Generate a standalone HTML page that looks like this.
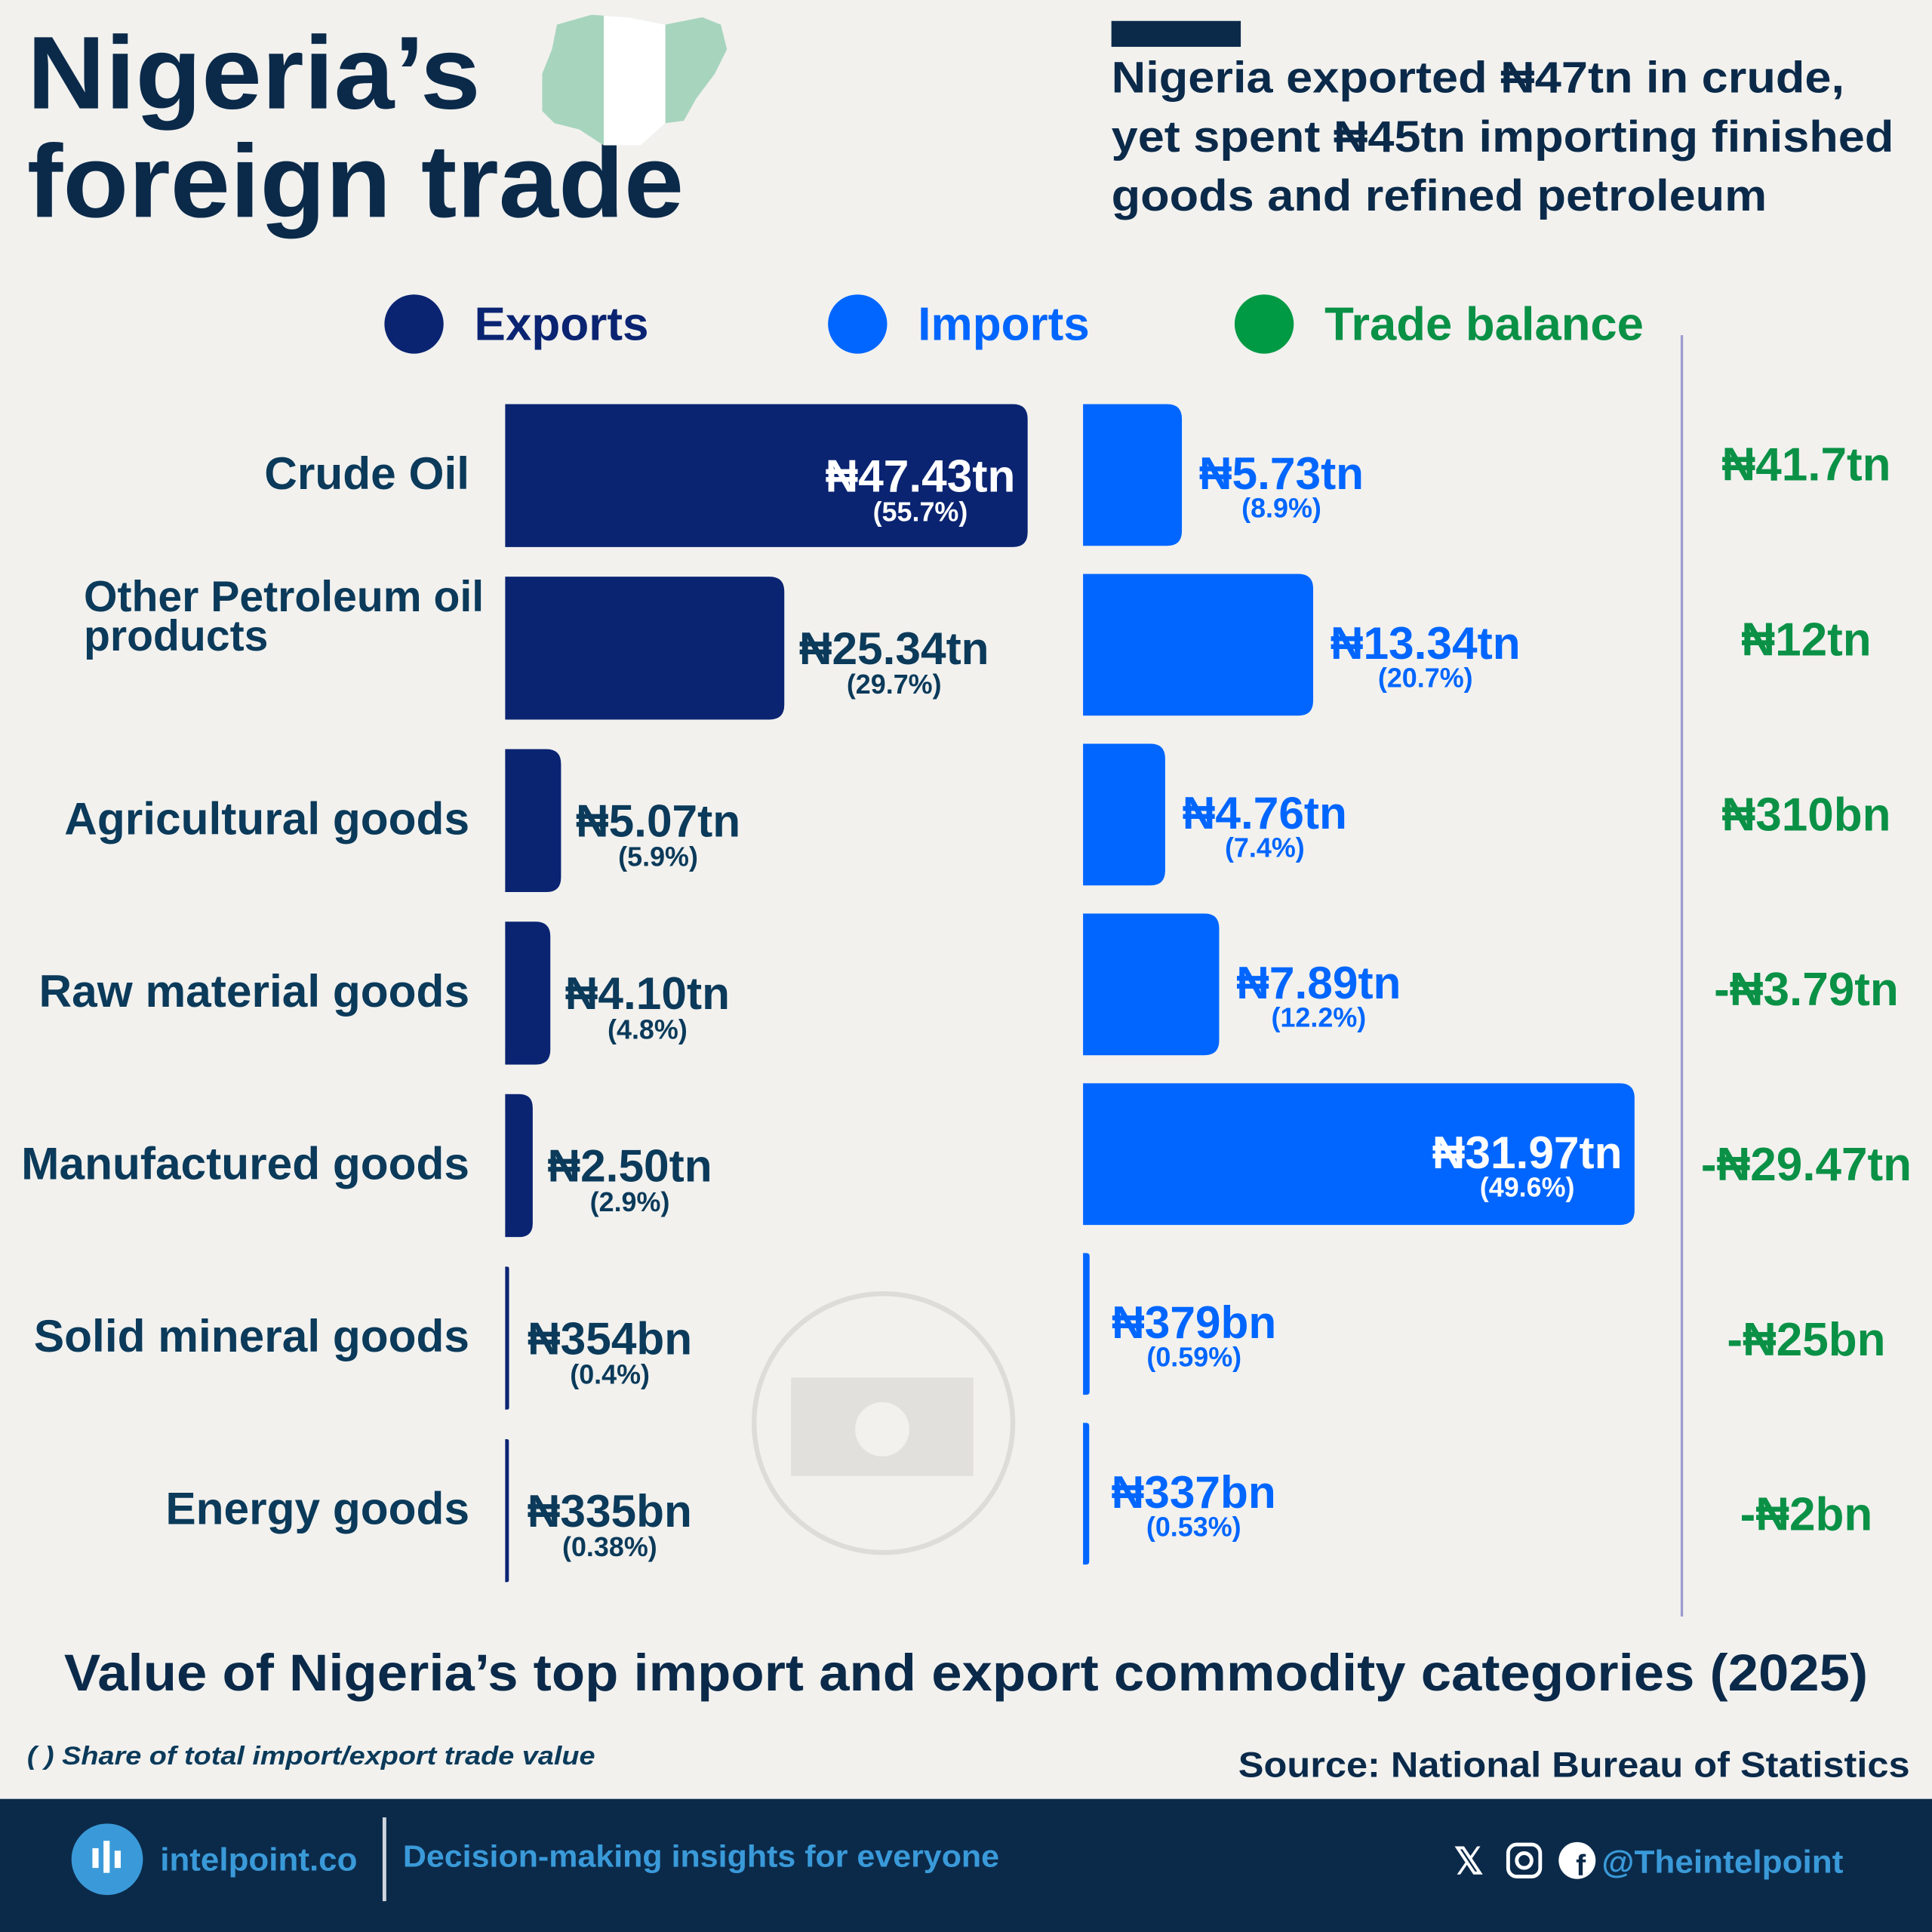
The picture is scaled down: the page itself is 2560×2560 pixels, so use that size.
<!DOCTYPE html>
<html><head><meta charset="utf-8"><style>
html,body{margin:0;padding:0;background:#f2f1ee;}
svg{display:block;font-family:"Liberation Sans",sans-serif;}
</style></head><body>
<svg id="chart" width="2560" height="2560" viewBox="0 0 1568 1568" xmlns="http://www.w3.org/2000/svg">
<defs><clipPath id="mapclip"><path d="M452,20 L480,12 L510,14 L540,20 L570,14 L585,20 L590,40 L580,60 L565,80 L555,98 L540,100 L520,118 L490,118 L470,105 L450,100 L440,90 L440,60 L448,40 Z"/></clipPath></defs>
<rect x="0" y="0" width="1568" height="1568" fill="#f2f1ee"/>
<g fill="#0b2a4a" font-weight="bold" font-size="84">
<text x="22" y="88" textLength="368" lengthAdjust="spacingAndGlyphs">Nigeria’s</text>
<text x="22" y="176" textLength="533" lengthAdjust="spacingAndGlyphs">foreign trade</text>
</g>
<g clip-path="url(#mapclip)">
<rect x="436" y="8" width="160" height="115" fill="#a7d4bd"/>
<rect x="490" y="8" width="50" height="115" fill="#ffffff"/>
</g>
<rect x="902" y="17" width="105" height="21" fill="#0b2a4a"/>
<g fill="#0b2a4a" font-weight="bold" font-size="36">
<text x="902" y="75" textLength="595" lengthAdjust="spacingAndGlyphs">Nigeria exported ₦47tn in crude,</text>
<text x="902" y="123" textLength="635" lengthAdjust="spacingAndGlyphs">yet spent ₦45tn importing finished</text>
<text x="902" y="171" textLength="532" lengthAdjust="spacingAndGlyphs">goods and refined petroleum</text>
</g>
<g font-weight="bold" font-size="38">
<circle cx="336" cy="263" r="24" fill="#0a2472"/>
<text x="385" y="276" fill="#0a2472">Exports</text>
<circle cx="696" cy="263" r="24" fill="#0066ff"/>
<text x="745" y="276" fill="#0066ff">Imports</text>
<circle cx="1026" cy="263" r="24" fill="#009a44"/>
<text x="1075" y="276" fill="#0a9146" textLength="259" lengthAdjust="spacingAndGlyphs">Trade balance</text>
</g>
<line x1="1365" y1="272" x2="1365" y2="1312" stroke="#9b9bd0" stroke-width="2"/>
<g fill="none" stroke="#dedcd8" stroke-width="4">
<circle cx="717" cy="1155" r="105"/>
<rect x="642" y="1118" width="148" height="80" fill="#e2e0dc" stroke="none"/>
<circle cx="716" cy="1160" r="22" fill="#f2f1ee" stroke="none"/>
</g>
<g id="bars"></g>
<text x="52" y="1372" fill="#0b2a4a" font-weight="bold" font-size="42" textLength="1464" lengthAdjust="spacingAndGlyphs">Value of Nigeria’s top import and export commodity categories (2025)</text>
<text x="22" y="1432" fill="#0b3a5a" font-weight="bold" font-style="italic" font-size="21" textLength="461" lengthAdjust="spacingAndGlyphs">( ) Share of total import/export trade value</text>
<text x="1005" y="1442" fill="#0b2a4a" font-weight="bold" font-size="29" textLength="545" lengthAdjust="spacingAndGlyphs">Source: National Bureau of Statistics</text>
<g>
<rect x="0" y="1460" width="1568" height="108" fill="#0b2a4a"/>
<circle cx="87" cy="1509" r="29" fill="#3a9ad9"/>
<rect x="75" y="1500" width="5" height="16" fill="#fff"/><rect x="84" y="1494" width="5" height="26" fill="#fff"/><rect x="93" y="1502" width="5" height="14" fill="#fff"/>
<text x="130" y="1518" fill="#3a9ad9" font-weight="bold" font-size="26" textLength="160" lengthAdjust="spacingAndGlyphs">intelpoint.co</text>
<line x1="312" y1="1475" x2="312" y2="1543" stroke="#cfd6de" stroke-width="3"/>
<text x="327" y="1515" fill="#3a9ad9" font-weight="bold" font-size="25" textLength="484" lengthAdjust="spacingAndGlyphs">Decision-making insights for everyone</text>
<text x="1192" y="1521" text-anchor="middle" fill="#fff" font-weight="bold" font-size="30">𝕏</text>
<rect x="1224" y="1497" width="26" height="26" rx="7" fill="none" stroke="#fff" stroke-width="3"/>
<circle cx="1237" cy="1510" r="6" fill="none" stroke="#fff" stroke-width="3"/>
<circle cx="1280" cy="1510" r="15" fill="#fff"/>
<text x="1283" y="1522" text-anchor="middle" fill="#0b2a4a" font-weight="bold" font-size="24">f</text>
<text x="1300" y="1520" fill="#3a9ad9" font-weight="bold" font-size="26" textLength="196" lengthAdjust="spacingAndGlyphs">@Theintelpoint</text>
</g>
</svg>
<script>
const categories = ["Crude Oil","Other Petroleum oil products","Agricultural goods","Raw material goods","Manufactured goods","Solid mineral goods","Energy goods"];
const exportValues = [47.43, 25.34, 5.07, 4.10, 2.50, 0.354, 0.335];
const exportLabels = ["₦47.43tn","₦25.34tn","₦5.07tn","₦4.10tn","₦2.50tn","₦354bn","₦335bn"];
const exportShares = ["(55.7%)","(29.7%)","(5.9%)","(4.8%)","(2.9%)","(0.4%)","(0.38%)"];
const importValues = [5.73, 13.34, 4.76, 7.89, 31.97, 0.379, 0.337];
const importLabels = ["₦5.73tn","₦13.34tn","₦4.76tn","₦7.89tn","₦31.97tn","₦379bn","₦337bn"];
const importShares = ["(8.9%)","(20.7%)","(7.4%)","(12.2%)","(49.6%)","(0.59%)","(0.53%)"];
const balanceLabels = ["₦41.7tn","₦12tn","₦310bn","-₦3.79tn","-₦29.47tn","-₦25bn","-₦2bn"];

const NS = "http://www.w3.org/2000/svg";
const g = document.getElementById("bars");
const xExp = v => v * 8.94;
const xImp = v => v * 14.0;
const yExp = i => 328 + i * 140;
const yImp = i => 328 + i * 137.8;
function mk(tag, attrs, txt){const e=document.createElementNS(NS,tag);for(const k in attrs)e.setAttribute(k,attrs[k]);if(txt!==undefined)e.textContent=txt;g.appendChild(e);return e;}
function barPath(x,y,w,h){const r=Math.min(12,w/2);return `M${x},${y} H${x+w-r} Q${x+w},${y} ${x+w},${y+r} V${y+h-r} Q${x+w},${y+h} ${x+w-r},${y+h} H${x} Z`;}

categories.forEach((c,i)=>{
  const ye=yExp(i), yi=yImp(i), h=116;
  const cy=ye+h/2;
  let lab;
  if(c.length>20){
    lab=mk("text",{x:68,y:cy-30,fill:"#0b3a5a","font-weight":"bold","font-size":35});
    const t1=document.createElementNS(NS,"tspan");t1.setAttribute("x",68);t1.textContent="Other Petroleum oil";lab.appendChild(t1);
    const t2=document.createElementNS(NS,"tspan");t2.setAttribute("x",68);t2.setAttribute("dy",32);t2.textContent="products";lab.appendChild(t2);
  } else {
    lab=mk("text",{x:381,y:cy+11,"text-anchor":"end",fill:"#0b3a5a","font-weight":"bold","font-size":37},c);
  }
  
  
  const we=Math.max(3,xExp(exportValues[i]));
  const eb=mk("path",{d:barPath(410,ye,we,h),fill:"#0a2472"});
  
  
  const inE=we>300;
  const ex=inE?410+we-10:410+we+12+(we<10?3:0);
  const ev=mk("text",{x:ex,y:cy+13,"text-anchor":inE?"end":"start",fill:inE?"#fff":"#0b3a5a","font-weight":"bold","font-size":37},exportLabels[i]);
  
  
  const eBox=ev.getBBox();
  const ep=mk("text",{x:eBox.x+eBox.width/2,y:cy+37,"text-anchor":"middle",fill:inE?"#fff":"#0b3a5a","font-weight":"bold","font-size":22},exportShares[i]);
  
  
  const wi=Math.max(5,xImp(importValues[i]));
  const ib=mk("path",{d:barPath(879,yi,wi,h-1),fill:"#0066ff"});
  
  
  const icy=yi+h/2;
  const inI=wi>300;
  const ix=inI?879+wi-10:879+wi+14+(wi<10?4:0);
  const iv=mk("text",{x:ix,y:icy+11,"text-anchor":inI?"end":"start",fill:inI?"#fff":"#0066ff","font-weight":"bold","font-size":37},importLabels[i]);
  
  
  const iBox=iv.getBBox();
  const ip=mk("text",{x:iBox.x+iBox.width/2,y:icy+34,"text-anchor":"middle",fill:inI?"#fff":"#0066ff","font-weight":"bold","font-size":22},importShares[i]);
  
  
  const bv=mk("text",{x:1466,y:377+i*142+13,"text-anchor":"middle",fill:"#0a9146","font-weight":"bold","font-size":38},balanceLabels[i]);
  
  
});
</script>
</body></html>
